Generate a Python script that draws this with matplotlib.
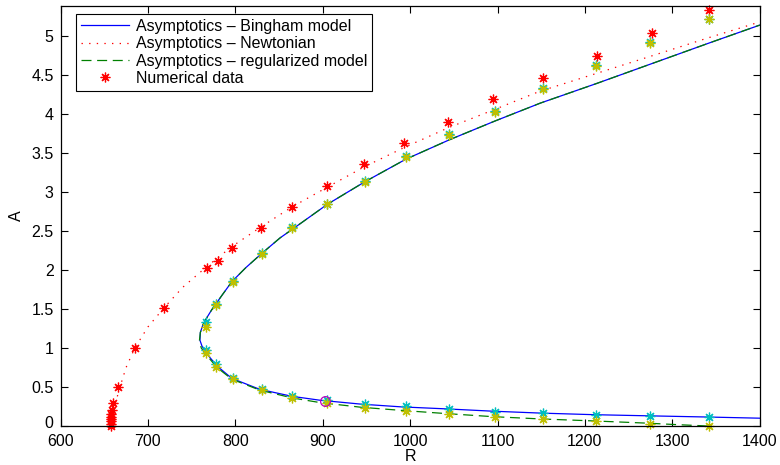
"""
Amplitude A versus R: asymptotics and numerical data
"""
import matplotlib
matplotlib.use('Agg')
import matplotlib.pyplot as plt
import matplotlib.transforms as mtransforms

# ==========================================
# DATA
# ==========================================
# Bingham model asymptotics (lower branch from the right, then upper branch)
bingham_R = [1400, 1340, 1274, 1210, 1150, 1094, 1040, 990, 944, 897, 865, 828, 796, 779, 767, 762, 759.5,
             760, 763, 768, 773, 785, 796, 812, 830, 851, 875, 905, 948, 995, 1045, 1097, 1149, 1213, 1275, 1342, 1400]
bingham_A = [0.10, 0.115, 0.13, 0.145, 0.165, 0.19, 0.22, 0.245, 0.28, 0.33, 0.38, 0.47, 0.61, 0.77, 0.93, 1.02, 1.1,
             1.2, 1.3, 1.4, 1.49, 1.68, 1.85, 2.03, 2.21, 2.41, 2.6, 2.84, 3.13, 3.42, 3.67, 3.91, 4.14, 4.39, 4.64, 4.91, 5.14]

# regularized model asymptotics
regul_R = [1340, 1300, 1274, 1210, 1150, 1094, 1040, 990, 944, 897, 865, 828, 796, 779, 767, 761, 759,
           760, 763, 768, 773, 785, 796, 812, 830, 851, 875, 905, 948, 995, 1045, 1097, 1149, 1213, 1275, 1342, 1400]
regul_A = [0.0, 0.02, 0.035, 0.065, 0.09, 0.12, 0.16, 0.2, 0.24, 0.3, 0.36, 0.46, 0.6, 0.75, 0.91, 1.0, 1.1,
           1.2, 1.3, 1.4, 1.49, 1.68, 1.85, 2.03, 2.21, 2.41, 2.6, 2.84, 3.13, 3.42, 3.67, 3.91, 4.14, 4.39, 4.64, 4.91, 5.14]

# Newtonian asymptotics
newt_R = [657, 658, 660, 663, 668, 675, 685, 700, 718, 740, 768, 796, 829, 865, 905, 947, 995,
          1045, 1097, 1148, 1213, 1275, 1342, 1400]
newt_A = [0.0, 0.1, 0.2, 0.3, 0.5, 0.75, 1.0, 1.27, 1.51, 1.78, 2.05, 2.3, 2.55, 2.81, 3.06, 3.32, 3.58,
          3.83, 4.06, 4.29, 4.52, 4.74, 4.98, 5.18]

# numerical data, Newtonian case (red)
num_newt_R = [658, 658, 658, 658, 658, 658, 659, 660, 666, 685, 718, 768, 780, 796, 829, 865, 905,
              947, 993, 1043, 1095, 1152, 1214, 1277, 1342]
num_newt_A = [0.0, 0.03, 0.06, 0.09, 0.12, 0.15, 0.2, 0.3, 0.5, 1.0, 1.51, 2.03, 2.12, 2.28, 2.54, 2.81, 3.08,
              3.36, 3.63, 3.9, 4.19, 4.46, 4.75, 5.04, 5.34]

# numerical data on the Bingham branches (cyan and yellow runs)
num_R = [767, 778, 797, 830, 865, 905, 948, 995, 1045, 1097, 1152, 1213, 1275, 1342]
cyan_upper = [1.33, 1.56, 1.86, 2.22, 2.55, 2.85, 3.14, 3.46, 3.74, 4.04, 4.33, 4.63, 4.92, 5.22]
cyan_lower = [0.97, 0.79, 0.62, 0.48, 0.39, 0.33, 0.28, 0.25, 0.22, 0.18, 0.17, 0.14, 0.13, 0.11]
yellow_upper = [1.27, 1.55, 1.85, 2.21, 2.54, 2.84, 3.13, 3.45, 3.73, 4.03, 4.32, 4.62, 4.91, 5.22]
yellow_lower = [0.93, 0.75, 0.60, 0.46, 0.36, 0.30, 0.23, 0.19, 0.15, 0.12, 0.09, 0.07, 0.03, 0.0]

# highlighted point
circle_R = [903]
circle_A = [0.32]

X_TICKS = [600, 700, 800, 900, 1000, 1100, 1200, 1300, 1400]
Y_TICKS = [0, 0.5, 1, 1.5, 2, 2.5, 3, 3.5, 4, 4.5, 5]
Y_TICKLABELS = ['0', '0.5', '1', '1.5', '2', '2.5', '3', '3.5', '4', '4.5', '5']

# ==========================================
# PLOT
# ==========================================
plt.rcParams['font.family'] = ['Liberation Sans', 'DejaVu Sans']
plt.rcParams['font.size'] = 11.5

fig = plt.figure(figsize=(7.8, 4.65), dpi=100)
ax = fig.add_axes([0.0776, 0.0839, 0.8964, 0.9032])

ast = (8, 2, 0)  # MATLAB-like asterisk
ms = 7

ax.plot(bingham_R, bingham_A, color='#0000ff', lw=0.9, label='Asymptotics \u2013 Bingham model')
ax.plot(newt_R, newt_A, color='#ff0000', lw=0.9, dashes=(1.1, 5), label='Asymptotics \u2013 Newtonian')
ax.plot(regul_R, regul_A, color='#008000', lw=0.9, dashes=(8, 4.5), label='Asymptotics \u2013 regularized model')
ax.plot(num_newt_R, num_newt_A, ls='none', marker=ast, ms=ms, mec='#ff0000', mew=0.9,
        clip_on=False, label='Numerical data')

for vals in (cyan_upper, cyan_lower):
    ax.plot(num_R, vals, ls='none', marker=ast, ms=ms, mec='#00bfbf', mew=0.9, clip_on=False)
for vals in (yellow_upper, yellow_lower):
    ax.plot(num_R, vals, ls='none', marker=ast, ms=ms, mec='#bfbf00', mew=0.9, clip_on=False)

ax.plot(circle_R, circle_A, ls='none', marker='o', ms=7, mfc='none', mec='#bf00bf', mew=0.9)

ax.set_xlim(600, 1400)
ax.set_ylim(0, 5.385)
ax.set_xticks(X_TICKS)
ax.set_yticks(Y_TICKS)
ax.set_yticklabels(Y_TICKLABELS)
ax.tick_params(direction='in', length=5, width=0.8, top=True, right=True)
ax.tick_params(axis='x', pad=6)
ax.tick_params(axis='y', pad=5)
for s in ax.spines.values():
    s.set_linewidth(0.9)

# nudge the "0" label up a little so it does not sit on "600"
zero_lbl = ax.get_yticklabels()[0]
zero_lbl.set_transform(zero_lbl.get_transform() +
                       mtransforms.ScaledTranslation(0, 3 / 72, fig.dpi_scale_trans))

ax.set_xlabel('R', labelpad=0)
ax.set_ylabel('A', labelpad=5)

leg = ax.legend(loc='upper left', bbox_to_anchor=(0.022, 0.981), borderaxespad=0,
                fancybox=False, edgecolor='black', framealpha=1, handlelength=3.0,
                handletextpad=0.45, labelspacing=0.15, borderpad=0.3, fontsize=11.5)
leg.get_frame().set_linewidth(0.8)

fig.savefig('out.png', dpi=100)
